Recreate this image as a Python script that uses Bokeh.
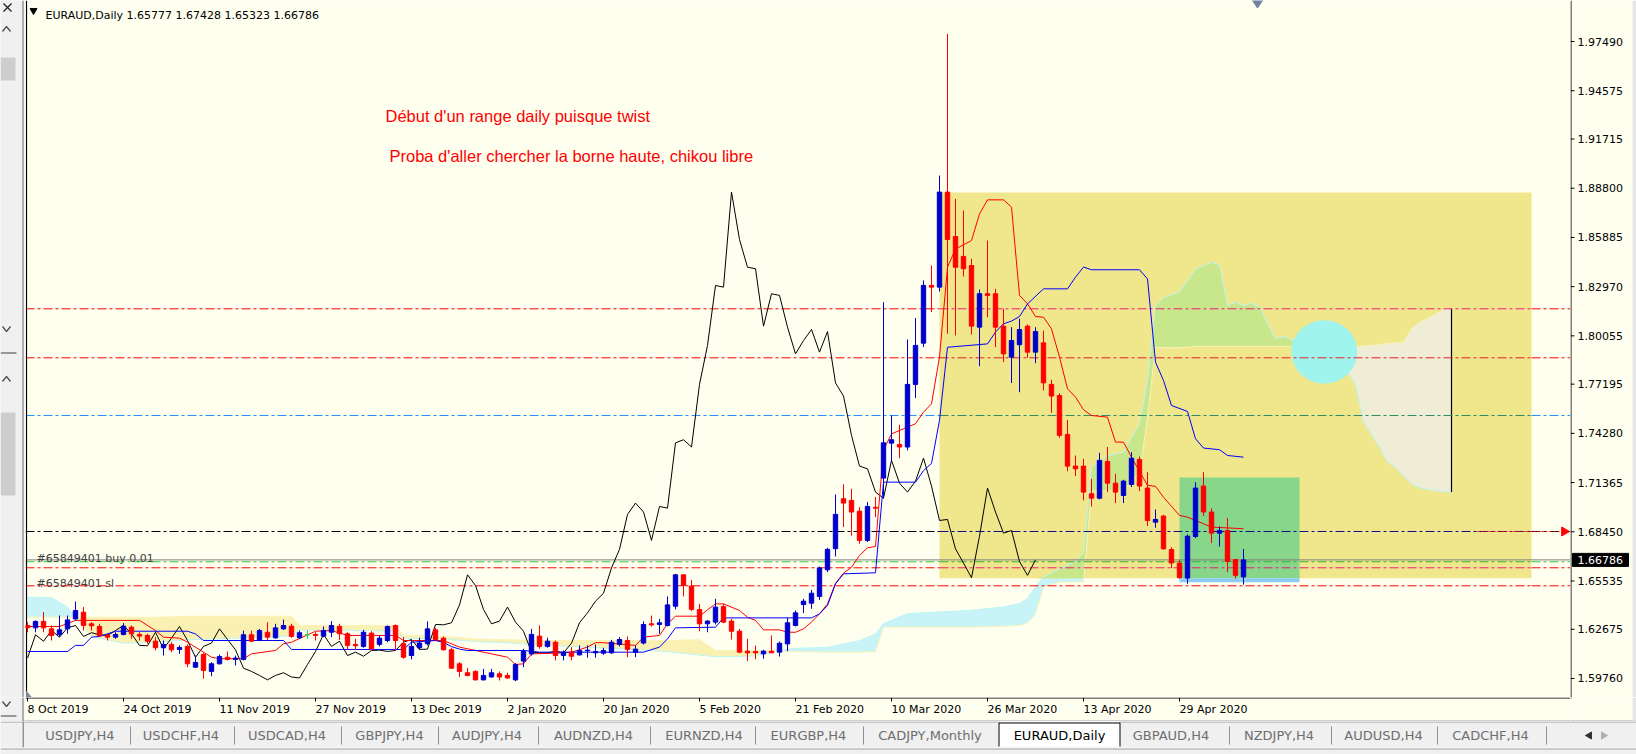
import numpy as np
from bokeh.plotting import figure
from bokeh.layouts import row, column
from bokeh.models import Range1d
from bokeh.core.properties import value
from bokeh.embed import file_html
from bokeh.resources import INLINE

# EURAUD daily candles, 8 Oct 2019 .. 11 May 2020 (bar 0 .. 152)
opens = [1.6290, 1.6276, 1.6314, 1.6270, 1.6237, 1.6270, 1.6329, 1.6369, 1.6300, 1.6284,
         1.6231, 1.6221, 1.6237, 1.6280, 1.6237, 1.6231, 1.6197, 1.6158, 1.6178, 1.6148,
         1.6166, 1.6043, 1.6118, 1.6018, 1.6063, 1.6102, 1.6089, 1.6089, 1.6235, 1.6201,
         1.6250, 1.6217, 1.6270, 1.6286, 1.6217, 1.6235, 1.6237, 1.6227, 1.6250, 1.6284,
         1.6241, 1.6178, 1.6166, 1.6245, 1.6178, 1.6201, 1.6290, 1.6182, 1.6112, 1.6158,
         1.6182, 1.6264, 1.6215, 1.6146, 1.6063, 1.6010, 1.6018, 1.5968, 1.5985, 1.6004,
         1.5994, 1.5968, 1.6079, 1.6122, 1.6227, 1.6166, 1.6191, 1.6112, 1.6132, 1.6116,
         1.6140, 1.6128, 1.6126, 1.6128, 1.6178, 1.6201, 1.6130, 1.6186, 1.6300, 1.6296,
         1.6290, 1.6404, 1.6590, 1.6523, 1.6385, 1.6300, 1.6310, 1.6402, 1.6316, 1.6256,
         1.6138, 1.6136, 1.6122, 1.6138, 1.6132, 1.6181, 1.6290, 1.6414, 1.6422, 1.6462,
         1.6620, 1.6745, 1.7041, 1.7031, 1.6967, 1.6794, 1.6990, 1.7163, 1.7370, 1.7362,
         1.7347, 1.7718, 1.7962, 1.8304, 1.8294, 1.8857, 1.8594, 1.8476, 1.8422, 1.8057,
         1.8255, 1.8255, 1.8063, 1.7879, 1.7953, 1.8063, 1.7909, 1.7964, 1.7718, 1.7652,
         1.7422, 1.7234, 1.7234, 1.7070, 1.7044, 1.7262, 1.7133, 1.7060, 1.7125, 1.7274,
         1.7104, 1.6902, 1.6938, 1.6740, 1.6660, 1.6571, 1.6817, 1.7116, 1.6962, 1.6837,
         1.6853, 1.6680, 1.65777]
highs = [1.6310, 1.6320, 1.6369, 1.6290, 1.6349, 1.6349, 1.6432, 1.6399, 1.6310, 1.6300,
         1.6241, 1.6250, 1.6304, 1.6290, 1.6250, 1.6241, 1.6221, 1.6201, 1.6191, 1.6172,
         1.6178, 1.6112, 1.6128, 1.6073, 1.6118, 1.6136, 1.6112, 1.6260, 1.6260, 1.6270,
         1.6310, 1.6300, 1.6325, 1.6300, 1.6260, 1.6260, 1.6250, 1.6284, 1.6316, 1.6300,
         1.6250, 1.6211, 1.6264, 1.6256, 1.6231, 1.6290, 1.6296, 1.6221, 1.6205, 1.6217,
         1.6314, 1.6276, 1.6225, 1.6158, 1.6073, 1.6039, 1.6024, 1.6033, 1.6033, 1.6018,
         1.6010, 1.6067, 1.6152, 1.6270, 1.6290, 1.6217, 1.6201, 1.6142, 1.6162, 1.6172,
         1.6172, 1.6178, 1.6158, 1.6205, 1.6221, 1.6225, 1.6172, 1.6314, 1.6349, 1.6329,
         1.6462, 1.6596, 1.6592, 1.6560, 1.6418, 1.6323, 1.6448, 1.6418, 1.6330, 1.6270,
         1.6211, 1.6171, 1.6146, 1.6231, 1.6195, 1.6335, 1.6379, 1.6448, 1.6501, 1.6639,
         1.6750, 1.7066, 1.7126, 1.7100, 1.6991, 1.7021, 1.7051, 1.8205, 1.7534, 1.7479,
         1.7984, 1.8111, 1.8334, 1.8422, 1.8955, 1.9794, 1.8817, 1.8748, 1.8462, 1.8280,
         1.8570, 1.8284, 1.8166, 1.8057, 1.8107, 1.8073, 1.8057, 1.8037, 1.7745, 1.7666,
         1.7508, 1.7297, 1.7277, 1.7159, 1.7313, 1.7347, 1.7189, 1.7153, 1.7317, 1.7291,
         1.7198, 1.6977, 1.6946, 1.6754, 1.6679, 1.6829, 1.7139, 1.7198, 1.6985, 1.6877,
         1.6926, 1.6685, 1.67428]
lows = [1.6250, 1.6250, 1.6250, 1.6201, 1.6221, 1.6241, 1.6320, 1.6260, 1.6260, 1.6221,
        1.6201, 1.6211, 1.6231, 1.6211, 1.6201, 1.6182, 1.6142, 1.6112, 1.6132, 1.6122,
        1.6043, 1.6037, 1.5975, 1.5989, 1.6059, 1.6083, 1.6053, 1.6083, 1.6191, 1.6197,
        1.6201, 1.6211, 1.6264, 1.6217, 1.6211, 1.6211, 1.6201, 1.6221, 1.6221, 1.6205,
        1.6146, 1.6146, 1.6158, 1.6142, 1.6166, 1.6191, 1.6142, 1.6093, 1.6089, 1.6146,
        1.6172, 1.6197, 1.6142, 1.6033, 1.5985, 1.5989, 1.5964, 1.5964, 1.5981, 1.5964,
        1.5975, 1.5960, 1.6043, 1.6112, 1.6152, 1.6158, 1.6083, 1.6083, 1.6083, 1.6112,
        1.6099, 1.6099, 1.6116, 1.6122, 1.6166, 1.6102, 1.6102, 1.6178, 1.6284, 1.6241,
        1.6284, 1.6385, 1.6462, 1.6375, 1.6256, 1.6250, 1.6296, 1.6304, 1.6207, 1.6126,
        1.6079, 1.6089, 1.6093, 1.6126, 1.6106, 1.6138, 1.6284, 1.6363, 1.6389, 1.6442,
        1.6606, 1.6699, 1.6873, 1.6823, 1.6774, 1.6784, 1.6932, 1.7041, 1.7258, 1.7281,
        1.7327, 1.7637, 1.7939, 1.8146, 1.8268, 1.8018, 1.8008, 1.8357, 1.8014, 1.7826,
        1.8116, 1.7939, 1.7850, 1.7726, 1.7672, 1.7876, 1.7844, 1.7682, 1.7550, 1.7402,
        1.7204, 1.7175, 1.7031, 1.6995, 1.7037, 1.7080, 1.7015, 1.7015, 1.7110, 1.7086,
        1.6879, 1.6869, 1.6738, 1.6630, 1.6567, 1.6537, 1.6807, 1.6938, 1.6778, 1.6758,
        1.6606, 1.6567, 1.65323]
closes = [1.6276, 1.6314, 1.6276, 1.6231, 1.6264, 1.6323, 1.6379, 1.6290, 1.6288, 1.6231,
          1.6221, 1.6237, 1.6286, 1.6241, 1.6227, 1.6197, 1.6158, 1.6178, 1.6146, 1.6160,
          1.6063, 1.6071, 1.6024, 1.6063, 1.6106, 1.6089, 1.6097, 1.6235, 1.6197, 1.6260,
          1.6221, 1.6276, 1.6290, 1.6225, 1.6247, 1.6235, 1.6231, 1.6260, 1.6290, 1.6241,
          1.6172, 1.6170, 1.6250, 1.6152, 1.6215, 1.6284, 1.6201, 1.6102, 1.6166, 1.6186,
          1.6270, 1.6207, 1.6146, 1.6037, 1.6018, 1.5994, 1.5968, 1.5994, 1.6010, 1.5985,
          1.5979, 1.6059, 1.6136, 1.6237, 1.6166, 1.6197, 1.6112, 1.6132, 1.6108, 1.6142,
          1.6144, 1.6136, 1.6142, 1.6191, 1.6207, 1.6148, 1.6150, 1.6296, 1.6294, 1.6306,
          1.6412, 1.6590, 1.6527, 1.6385, 1.6300, 1.6316, 1.6399, 1.6310, 1.6256, 1.6132,
          1.6128, 1.6128, 1.6138, 1.6128, 1.6185, 1.6306, 1.6365, 1.6434, 1.6481, 1.6631,
          1.6741, 1.6948, 1.7015, 1.6962, 1.6794, 1.6995, 1.6985, 1.7372, 1.7390, 1.7347,
          1.7718, 1.7949, 1.8304, 1.8294, 1.8857, 1.8576, 1.8412, 1.8403, 1.8063, 1.8255,
          1.8245, 1.8057, 1.7899, 1.7978, 1.8043, 1.7909, 1.8031, 1.7727, 1.7649, 1.7416,
          1.7234, 1.7218, 1.7080, 1.7044, 1.7268, 1.7133, 1.7080, 1.7145, 1.7281, 1.7116,
          1.6912, 1.6918, 1.6744, 1.6660, 1.6573, 1.6819, 1.7104, 1.6962, 1.6837, 1.6853,
          1.6669, 1.6587, 1.66786]

# Ichimoku lines (bar, price)
tenkan_bars = [0, 4, 6, 14, 16, 17, 19, 20, 22, 23, 24, 27, 28, 31, 32, 33, 36, 38, 40, 46,
               47, 52, 54, 58, 60, 61, 62, 63, 66, 68, 70, 71, 72, 76, 77, 79, 80, 81, 84, 85,
               86, 87, 89, 90, 91, 92, 94, 95, 96, 97, 98, 99, 100, 101, 102, 103, 104, 105, 106, 107,
               108, 111, 112, 113, 114, 115, 116, 118, 119, 120, 122, 123, 124, 125, 126, 127, 128, 129, 130, 131,
               132, 133, 135, 136, 137, 138, 140, 141, 142, 144, 145, 148, 152]
tenkan_vals = [1.6284, 1.6284, 1.6320, 1.6320, 1.6260, 1.6221, 1.6215, 1.6191, 1.6132, 1.6102,
               1.6093, 1.6093, 1.6122, 1.6142, 1.6182, 1.6191, 1.6256, 1.6260, 1.6231, 1.6231,
               1.6201, 1.6201, 1.6162, 1.6122, 1.6102, 1.6059, 1.6063, 1.6122, 1.6126, 1.6132,
               1.6162, 1.6188, 1.6188, 1.6172, 1.6221, 1.6231, 1.6300, 1.6345, 1.6345, 1.6383,
               1.6418, 1.6418, 1.6379, 1.6339, 1.6320, 1.6264, 1.6264, 1.6250, 1.6250, 1.6270,
               1.6310, 1.6359, 1.6418, 1.6540, 1.6600, 1.6635, 1.6705, 1.6750, 1.6758, 1.7330,
               1.7425, 1.7485, 1.7554, 1.7603, 1.7880, 1.8412, 1.8520, 1.8570, 1.8728, 1.8811,
               1.8811, 1.8768, 1.8245, 1.8195, 1.8120, 1.8116, 1.8047, 1.7880, 1.7692, 1.7643,
               1.7568, 1.7534, 1.7524, 1.7376, 1.7376, 1.7287, 1.7120, 1.7114, 1.7050, 1.6942,
               1.6932, 1.6873, 1.6863]
kijun_bars = [0, 5, 6, 7, 8, 9, 11, 20, 21, 22, 32, 33, 47, 48, 51, 52, 53, 54, 55, 62,
              64, 77, 79, 80, 81, 86, 87, 98, 99, 100, 101, 102, 106, 107, 111, 112, 113, 114, 115, 120,
              121, 122, 123, 124, 125, 127, 130, 131, 132, 133, 139, 140, 141, 142, 143, 145, 146, 147, 149, 150,
              152]
kijun_vals = [1.6136, 1.6136, 1.6172, 1.6172, 1.6221, 1.6225, 1.6256, 1.6256, 1.6240, 1.6201,
              1.6201, 1.6148, 1.6148, 1.6191, 1.6201, 1.6190, 1.6165, 1.6150, 1.6142, 1.6142,
              1.6132, 1.6132, 1.6162, 1.6211, 1.6276, 1.6280, 1.6335, 1.6335, 1.6359, 1.6408,
              1.6537, 1.6596, 1.6602, 1.7139, 1.7139, 1.7207, 1.7250, 1.7505, 1.7938, 1.7958,
              1.8028, 1.8077, 1.8093, 1.8120, 1.8195, 1.8284, 1.8284, 1.8353, 1.8413, 1.8397,
              1.8397, 1.8343, 1.7850, 1.7741, 1.7593, 1.7558, 1.7396, 1.7341, 1.7331, 1.7297,
              1.7287]
cloud_bars = [0, 3, 5, 6, 8, 12, 16, 20, 26, 30, 33, 34, 40, 46, 47, 52, 56, 60, 64, 70,
              76, 80, 84, 86, 90, 93, 96, 100, 104, 106, 107, 110, 114, 118, 122, 124, 125, 126, 127, 129,
              131, 132, 133, 135, 137, 138, 139, 140, 141, 142, 144, 146, 148, 149, 150, 151, 152, 153, 154, 156,
              157, 158, 159, 161, 162, 163, 165, 166, 167, 169, 170, 171, 172, 173, 174, 175, 177, 178]
span_a = [1.6458, 1.6455, 1.6400, 1.6340, 1.6225, 1.6185, 1.6190, 1.6205, 1.6215, 1.6222,
          1.6228, 1.6262, 1.6262, 1.6255, 1.6215, 1.6210, 1.6195, 1.6188, 1.6175, 1.6160,
          1.6148, 1.6135, 1.6115, 1.6105, 1.6105, 1.6132, 1.6155, 1.6160, 1.6200, 1.6240,
          1.6300, 1.6360, 1.6370, 1.6380, 1.6400, 1.6420, 1.6450, 1.6520, 1.6577, 1.6625,
          1.6670, 1.6720, 1.7228, 1.7297, 1.7317, 1.7400, 1.7485, 1.7741, 1.8185, 1.8231,
          1.8264, 1.8400, 1.8440, 1.8428, 1.8185, 1.8205, 1.8185, 1.8199, 1.8176, 1.7988,
          1.8002, 1.7982, 1.7962, 1.7958, 1.7889, 1.7883, 1.7791, 1.7722, 1.7495, 1.7347,
          1.7258, 1.7228, 1.7175, 1.7130, 1.7106, 1.7096, 1.7082, 1.7080]
span_b = [1.6339, 1.6339, 1.6339, 1.6339, 1.6339, 1.6339, 1.6339, 1.6345, 1.6345, 1.6345,
          1.6345, 1.6290, 1.6290, 1.6290, 1.6232, 1.6225, 1.6210, 1.6205, 1.6201, 1.6201,
          1.6201, 1.6201, 1.6205, 1.6142, 1.6142, 1.6140, 1.6135, 1.6132, 1.6132, 1.6135,
          1.6280, 1.6280, 1.6280, 1.6280, 1.6285, 1.6290, 1.6304, 1.6359, 1.6517, 1.6547,
          1.6547, 1.6547, 1.7087, 1.7087, 1.7087, 1.7151, 1.7195, 1.7519, 1.7939, 1.7935,
          1.7935, 1.7943, 1.7943, 1.7943, 1.7943, 1.7943, 1.7943, 1.7943, 1.7943, 1.7943,
          1.7943, 1.7943, 1.7943, 1.7943, 1.7943, 1.7943, 1.7943, 1.7943, 1.7945, 1.7955,
          1.7960, 1.7965, 1.7968, 1.8047, 1.8087, 1.8107, 1.8160, 1.8166]

# objects drawn on the chart
zone_bars = [114, 188]
zone_prices = [1.65701, 1.88546]
order_bars = [144, 159]
order_prices = [1.65464, 1.71668]
circle_bar, circle_price = 162.1, 1.7910
level_prices = [1.81657, 1.78755, 1.75338, 1.68467, 1.66674, 1.66317, 1.65250]
bid = 1.66786

price_ticks = [1.59760, 1.62675, 1.65535, 1.68450, 1.71365, 1.74280, 1.77195,
               1.80055, 1.82970, 1.85885, 1.88800, 1.91715, 1.94575, 1.97490]
date_bars = [0, 12, 24, 36, 48, 60, 72, 84, 96, 108, 120, 132, 144]
date_labels = ["8 Oct 2019", "24 Oct 2019", "11 Nov 2019", "27 Nov 2019", "13 Dec 2019",
               "2 Jan 2020", "20 Jan 2020", "5 Feb 2020", "21 Feb 2020", "10 Mar 2020",
               "26 Mar 2020", "13 Apr 2020", "29 Apr 2020"]
tab_names = ["USDJPY,H4", "USDCHF,H4", "USDCAD,H4", "GBPJPY,H4", "AUDJPY,H4", "AUDNZD,H4",
             "EURNZD,H4", "EURGBP,H4", "CADJPY,Monthly", "EURAUD,Daily", "GBPAUD,H4",
             "NZDJPY,H4", "AUDUSD,H4", "CADCHF,H4"]

BG = "#FFFFF0"
UI = "#F0F0F0"
PX = 1688.3                      # pixels per price unit
X0, X1 = -0.25, 192.875
Y0, Y1 = 1.586344, 1.999185
FONT = value("DejaVu Sans")


def panel(width, height, xr, yr, bg, **kw):
    f = figure(width=width, height=height, x_range=xr, y_range=yr,
               toolbar_location=None, output_backend="svg", x_axis_location=None,
               y_axis_location=None, min_border=0, background_fill_color=bg,
               border_fill_color=bg, outline_line_color=None, **kw)
    f.grid.visible = False
    return f


# ---- main chart
p = panel(1545, 697, Range1d(X0, X1), Range1d(Y0, Y1), BG)

cx = np.array(cloud_bars, dtype=float)
sa = np.array(span_a)
sb = np.array(span_b)
ctop = np.maximum(sa, sb)
p.varea(x=cx, y1=sb, y2=ctop, color="#C8F4F8")
p.varea(x=cx, y1=sa, y2=ctop, color="#FAF0B2")

p.quad(left=zone_bars[0], right=zone_bars[1], bottom=zone_prices[0], top=zone_prices[1],
       color="#F0E68C", line_color=None)

# cloud over the zone takes other tints
m = cx >= zone_bars[0]
lo, hi = zone_prices
p.varea(x=cx[m], y1=np.clip(sb[m], lo, hi), y2=np.clip(ctop[m], lo, hi), color="#C8E68A")
p.varea(x=cx[m], y1=np.clip(sa[m], lo, hi), y2=np.clip(ctop[m], lo, hi), color="#F0EDD6")
p.line(cx, sa, color="#BDF5F5", line_width=1)
p.line(cx, sb, color="#FAF3B8", line_width=1)
p.segment(x0=cloud_bars[-1], y0=span_a[-1], x1=cloud_bars[-1], y1=span_b[-1],
          color="black", line_width=1.2)

p.quad(left=order_bars[0], right=order_bars[1], bottom=max(order_prices[0], lo),
       top=order_prices[1], color="#88D68A", line_color=None)
p.quad(left=order_bars[0], right=order_bars[1], bottom=order_prices[0], top=lo,
       color="#8CCBF2", line_color=None)

p.ellipse(x=circle_bar, y=circle_price, width=8.25, height=0.0375,
          fill_color="#A0F4EE", line_color=None)

# horizontal levels: (outside colour, colour over the zone)
level_style = [("#FF0000", "#EE1C80"), ("#FF0000", "#E0202C"), ("#1E90FF", "#2E8B64"),
               ("#000000", "#0A0A8C"), ("#32CD32", "#32B432"), ("#FF0000", "#E81E78"),
               ("#FF0000", "#FF0000")]
dash = "9 3 3 3"
for lv, (c_out, c_in) in zip(level_prices, level_style):
    p.segment(x0=[X0, zone_bars[1]], y0=[lv, lv], x1=[zone_bars[0], X1], y1=[lv, lv],
              color=c_out, line_width=1, line_dash=dash)
    p.segment(x0=zone_bars[0], y0=lv, x1=zone_bars[1], y1=lv, color=c_in,
              line_width=1, line_dash=dash)
p.segment(x0=X0, y0=bid, x1=X1, y1=bid, color="#808080", line_width=1)
p.segment(x0=181.25, y0=level_prices[3], x1=191.6, y1=level_prices[3], color="#FF0000",
          line_width=1, line_dash="2 2")
p.scatter(x=[192.1], y=[level_prices[3]], marker="triangle", angle=-np.pi / 2, size=9,
          color="#FF0000")

# frame edge and small marks
p.segment(x0=-0.125, y0=Y0, x1=-0.125, y1=Y1, color="black", line_width=1.2)
p.patch(x=[-0.125, -0.125, 0.5], y=[Y0, Y0 + 6 / PX, Y0], color="#7A8A9A")
p.scatter(x=[153.75], y=[Y1], marker="diamond", size=15, color="#6F82A6")

# ichimoku lines
idx = np.arange(len(closes))
p.line(idx[26:] - 26, closes[26:], color="black", line_width=1)
p.line(tenkan_bars, tenkan_vals, color="#FF0000", line_width=1)
p.line(kijun_bars, kijun_vals, color="#0000FF", line_width=1)

# candles
o = np.array(opens)
c = np.array(closes)
colors = ["#0000CD" if cc > oo else ("#FF0000" if cc < oo else "#32CD32")
          for oo, cc in zip(opens, closes)]
p.segment(x0=idx, y0=lows, x1=idx, y1=highs, color=colors, line_width=1)
p.vbar(x=idx, width=0.55, top=np.maximum(o, c), bottom=np.minimum(o, c),
       fill_color=colors, line_color=colors, line_width=1)

# texts
p.scatter(x=[0.75], y=[1.99326], marker="inverted_triangle", size=7, color="black")
p.text(x=[2.25], y=[1.99030], text=["EURAUD,Daily  1.65777 1.67428 1.65323 1.66786"],
       text_font=FONT, text_font_size="11px", text_color="black", text_baseline="alphabetic")
p.text(x=[1.125, 1.125], y=[1.66868, 1.65387], text=["#65849401 buy 0.01", "#65849401 sl"],
       text_font=FONT, text_font_size="11px", text_color="#404040", text_baseline="alphabetic")
p.text(x=[44.75, 45.25], y=[1.93088, 1.90679],
       text=["Début d'un range daily puisque twist",
             "Proba d'aller chercher la borne haute, chikou libre"],
       text_font=value("Liberation Sans"), text_font_size="16.5px", text_color="#FF0000",
       text_baseline="alphabetic")

# ---- time scale under the chart (shares the bar range)
dates = panel(1545, 24, p.x_range, Range1d(24, 0), BG)
dates.segment(x0=X0, y0=0.5, x1=X1, y1=0.5, color="black", line_width=1)
dates.segment(x0=date_bars, y0=[0] * len(date_bars), x1=date_bars, y1=[4] * len(date_bars),
              color="black", line_width=1)
dates.text(x=date_bars, y=[11.5] * len(date_bars), text=date_labels, text_font=FONT,
           text_font_size="11px", text_color="black", text_align="left",
           text_baseline="middle")
dates.segment(x0=X0, y0=23.5, x1=X1, y1=23.5, color="#A0A0A0", line_width=1)

# ---- price scale right of the chart (shares the price range)
pax = panel(66, 697, Range1d(1570, 1636), p.y_range, BG)
pax.segment(x0=1570.5, y0=Y0, x1=1570.5, y1=Y1, color="black", line_width=1)
pax.segment(x0=[1570] * len(price_ticks), y0=price_ticks, x1=[1574] * len(price_ticks),
            y1=price_ticks, color="black", line_width=1)
pax.text(x=[1577] * len(price_ticks), y=price_ticks, text=["%.5f" % t for t in price_ticks],
         text_font=FONT, text_font_size="11px", text_color="black", text_baseline="middle")
pax.quad(left=1572, right=1628, bottom=bid - 6.5 / PX, top=bid + 6.5 / PX, color="black")
pax.text(x=[1577], y=[bid], text=["%.5f" % bid], text_font=FONT, text_font_size="11px",
         text_color="white", text_baseline="middle")
pax.quad(left=1632, right=1636, bottom=Y0, top=Y1, color="#E6E6E6", line_color=None)
pax_bot = panel(66, 24, Range1d(1570, 1636), Range1d(721, 697), BG)
pax_bot.segment(x0=1570, y0=697.5, x1=1571, y1=697.5, color="black", line_width=1)
pax_bot.segment(x0=1570, y0=720.5, x1=1636, y1=720.5, color="#A0A0A0", line_width=1)
pax_bot.quad(left=1632, right=1636, bottom=720, top=697, color="#E6E6E6", line_color=None)

# ---- left side panel (pixel coordinates)
left = panel(25, 697, Range1d(0, 25), Range1d(697, 0), UI)
left.quad(left=0, right=15, top=57, bottom=80, color="#CDCDCD", line_color=None)
left.quad(left=0, right=15, top=412, bottom=495, color="#CDCDCD", line_color=None)
left.quad(left=23, right=25, top=0, bottom=697, color="#F7F7F7", line_color=None)
left.segment(x0=22.5, y0=0, x1=22.5, y1=697, color="#696969", line_width=1)
left.segment(x0=[3, 3], y0=[3, 11], x1=[11, 11], y1=[11, 3], color="#202020", line_width=1.3)
left.multi_line(xs=[[2, 6, 10], [2, 6, 10], [2, 6, 10]],
                ys=[[31, 26, 31], [326, 331, 326], [381, 376, 381]],
                color="#505050", line_width=1.3)
left.segment(x0=0, y0=352.5, x1=16, y1=352.5, color="#404040", line_width=1)

left_bot = panel(25, 24, Range1d(0, 25), Range1d(721, 697), UI)
left_bot.quad(left=23, right=25, top=697, bottom=721, color="#F7F7F7", line_color=None)
left_bot.segment(x0=22.5, y0=697, x1=22.5, y1=721, color="#696969", line_width=1)
left_bot.multi_line(xs=[[2, 6, 10]], ys=[[701, 706, 701]], color="#505050", line_width=1.3)
left_bot.segment(x0=0, y0=715.5, x1=16, y1=715.5, color="#404040", line_width=1)
left_bot.segment(x0=22, y0=720.5, x1=25, y1=720.5, color="#A0A0A0", line_width=1)

# ---- tab bar (pixel coordinates)
tabs = panel(1636, 33, Range1d(0, 1636), Range1d(754, 721), UI)
tab_x = [79.5, 180.5, 286.5, 389, 486.5, 593, 703.5, 808, 929.5, 1059, 1170.5, 1278.5, 1383, 1490]
seps = [130, 234, 341, 438, 538, 650, 755, 863, 1229, 1331, 1437, 1546]
tabs.segment(x0=[0, 1120], y0=[721.5, 721.5], x1=[998, 1636], y1=[721.5, 721.5],
             color="#A0A0A0", line_width=1)
tabs.quad(left=998, right=1120, top=722, bottom=746, color="white", line_color=None)
tabs.segment(x0=[998.5, 1119.5, 998.5], y0=[722, 722, 722.5], x1=[998.5, 1119.5, 1119.5],
             y1=[746, 746, 722.5], color="black", line_width=1)
tabs.segment(x0=seps, y0=[726] * len(seps), x1=seps, y1=[744] * len(seps),
             color="#909090", line_width=1)
tabs.segment(x0=22.7, y0=721, x1=22.7, y1=747, color="#696969", line_width=1)
tabs.segment(x0=[0, 0], y0=[747.5, 748.5], x1=[1636, 1636], y1=[747.5, 748.5],
             color=["#FFFFFF", "#A0A0A0"], line_width=1)
tab_colors = ["black" if n == "EURAUD,Daily" else "#6E6E6E" for n in tab_names]
tabs.text(x=tab_x, y=[735] * len(tab_x), text=tab_names, text_font=FONT,
          text_font_size="13px", text_color=tab_colors, text_align="center",
          text_baseline="middle")
tabs.scatter(x=[1589, 1603], y=[735, 735], marker="triangle", angle=[np.pi / 2, -np.pi / 2],
             size=7, color=["#303030", "#B0B0B0"])

layout = column(row(column(left, left_bot), column(p, dates), column(pax, pax_bot)), tabs)
open("out.html", "w").write(file_html(layout, INLINE))
